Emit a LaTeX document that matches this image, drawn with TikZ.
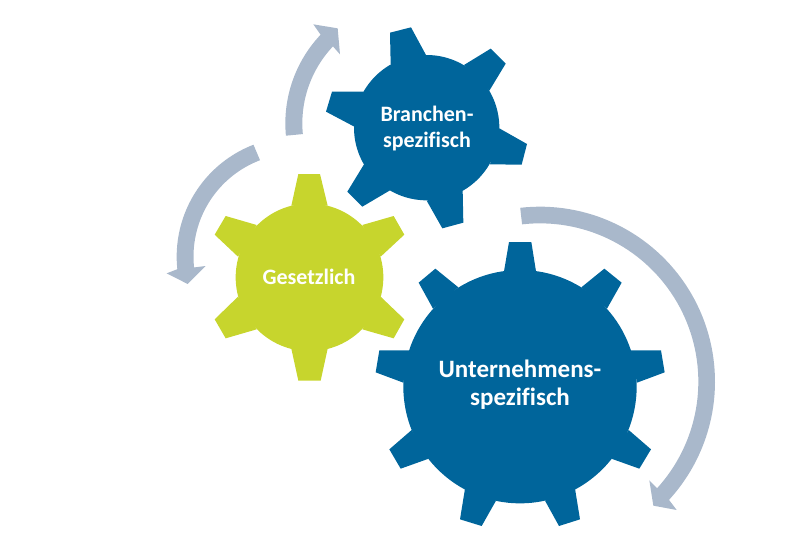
\documentclass[tikz,border=0pt]{standalone}
\usepackage{fontspec}
\setmainfont[Ligatures=NoCommon]{Carlito}
\definecolor{gearblue}{HTML}{00659B}
\definecolor{geargreen}{HTML}{C7D52D}
\definecolor{arrowgrey}{HTML}{A9B8CB}
\newcommand{\toothfill}[5]{\fill[#1] #2 -- #3 -- #4 -- #5 -- cycle;}
\tikzset{
  zoomed/.style={x=0.33333pt,y=-0.33333pt},
  label text/.style={text=white,align=center,inner sep=0pt},
  arrowshape/.style={fill=arrowgrey,draw=none}
}
\begin{document}
\begin{tikzpicture}[x=1pt,y=-1pt]
\useasboundingbox (0,0) rectangle (800,533);
% large arrow
\begin{scope}[shift={(510,195)},zoomed]
\fill[arrowshape] plot[domain=-96.5:42.5,samples=70] ({90+525*cos(\x)},{560+525*sin(\x)})
  -- (500,945) -- (430,932) -- (418,856)
  -- plot[domain=42.3:-96.5,samples=70] ({90+475*cos(\x)},{560+475*sin(\x)}) -- cycle;
\end{scope}
% upper and left arrows
\begin{scope}[shift={(150,10)},zoomed]
\fill[arrowshape] plot[domain=174.5:223.4,samples=40] ({793+387*cos(\x)},{340+387*sin(\x)})
  -- (490,43) -- (563,55) -- (570,133)
  -- plot[domain=223.4:174.5,samples=40] ({793+336*cos(\x)},{340+336*sin(\x)}) -- cycle;
\fill[arrowshape] plot[domain=248.9:174,samples=40] ({440+360*cos(\x)},{740+360*sin(\x)})
  -- (50,790) -- (113,822) -- (167,768)
  -- plot[domain=174:249.2,samples=40] ({440+309.5*cos(\x)},{740+309.5*sin(\x)}) -- cycle;
\end{scope}
% small blue gear
\begin{scope}[shift={(310,10)},zoomed]
\fill[gearblue] (350,353) ellipse [x radius=218,y radius=218];
\toothfill{gearblue}{(242,163)}{(240,68)}{(303,52)}{(348,135)}
\toothfill{gearblue}{(462,165)}{(542,116)}{(587,161)}{(538,242)}
\toothfill{gearblue}{(568,355)}{(651,402)}{(635,464)}{(540,463)}
\toothfill{gearblue}{(458,541)}{(460,638)}{(397,655)}{(350,572)}
\toothfill{gearblue}{(240,541)}{(157,590)}{(112,545)}{(162,463)}
\toothfill{gearblue}{(133,350)}{(48,305)}{(66,245)}{(162,245)}
\end{scope}
% green gear
\begin{scope}[shift={(200,160)},zoomed]
\fill[geargreen] (328.5,352) ellipse [x radius=221.5,y radius=221.5];
\toothfill{geargreen}{(274,137)}{(295,42)}{(360,42)}{(383,137)}
\toothfill{geargreen}{(487,195)}{(581,168)}{(613,224)}{(542,290)}
\toothfill{geargreen}{(542,410)}{(613,478)}{(581,535)}{(487,508)}
\toothfill{geargreen}{(383,566)}{(362,662)}{(295,662)}{(274,566)}
\toothfill{geargreen}{(170,508)}{(77,535)}{(44,478)}{(114,410)}
\toothfill{geargreen}{(114,290)}{(44,224)}{(77,168)}{(170,195)}
\end{scope}
% big blue gear
\begin{scope}[shift={(370,230)},zoomed]
\fill[gearblue] (450,470) ellipse [x radius=350,y radius=350];
\toothfill{gearblue}{(402,124)}{(417,36)}{(484,36)}{(498,124)}
\toothfill{gearblue}{(634,172)}{(703,116)}{(755,158)}{(711,236)}
\toothfill{gearblue}{(782,361)}{(873,361)}{(884,427)}{(801,458)}
\toothfill{gearblue}{(776,600)}{(843,658)}{(808,716)}{(724,686)}
\toothfill{gearblue}{(615,776)}{(630,868)}{(567,888)}{(525,812)}
\toothfill{gearblue}{(378,812)}{(335,888)}{(270,868)}{(285,776)}
\toothfill{gearblue}{(176,686)}{(92,716)}{(58,658)}{(125,600)}
\toothfill{gearblue}{(100,458)}{(17,427)}{(28,361)}{(118,361)}
\toothfill{gearblue}{(189,236)}{(146,158)}{(196,116)}{(265,172)}
\end{scope}
\node[label text,font=\fontsize{22}{26}\selectfont\bfseries] (branchen) at (427,129) {Branchen-\\spezifisch};
\node[label text,font=\fontsize{22}{24}\selectfont\bfseries] (gesetzlich) at (309,277) {Gesetzlich};
\node[label text,font=\fontsize{25}{28}\selectfont\bfseries] (unternehmen) at (520,385) {Unternehmens-\\spezifisch};
\end{tikzpicture}
\end{document}
